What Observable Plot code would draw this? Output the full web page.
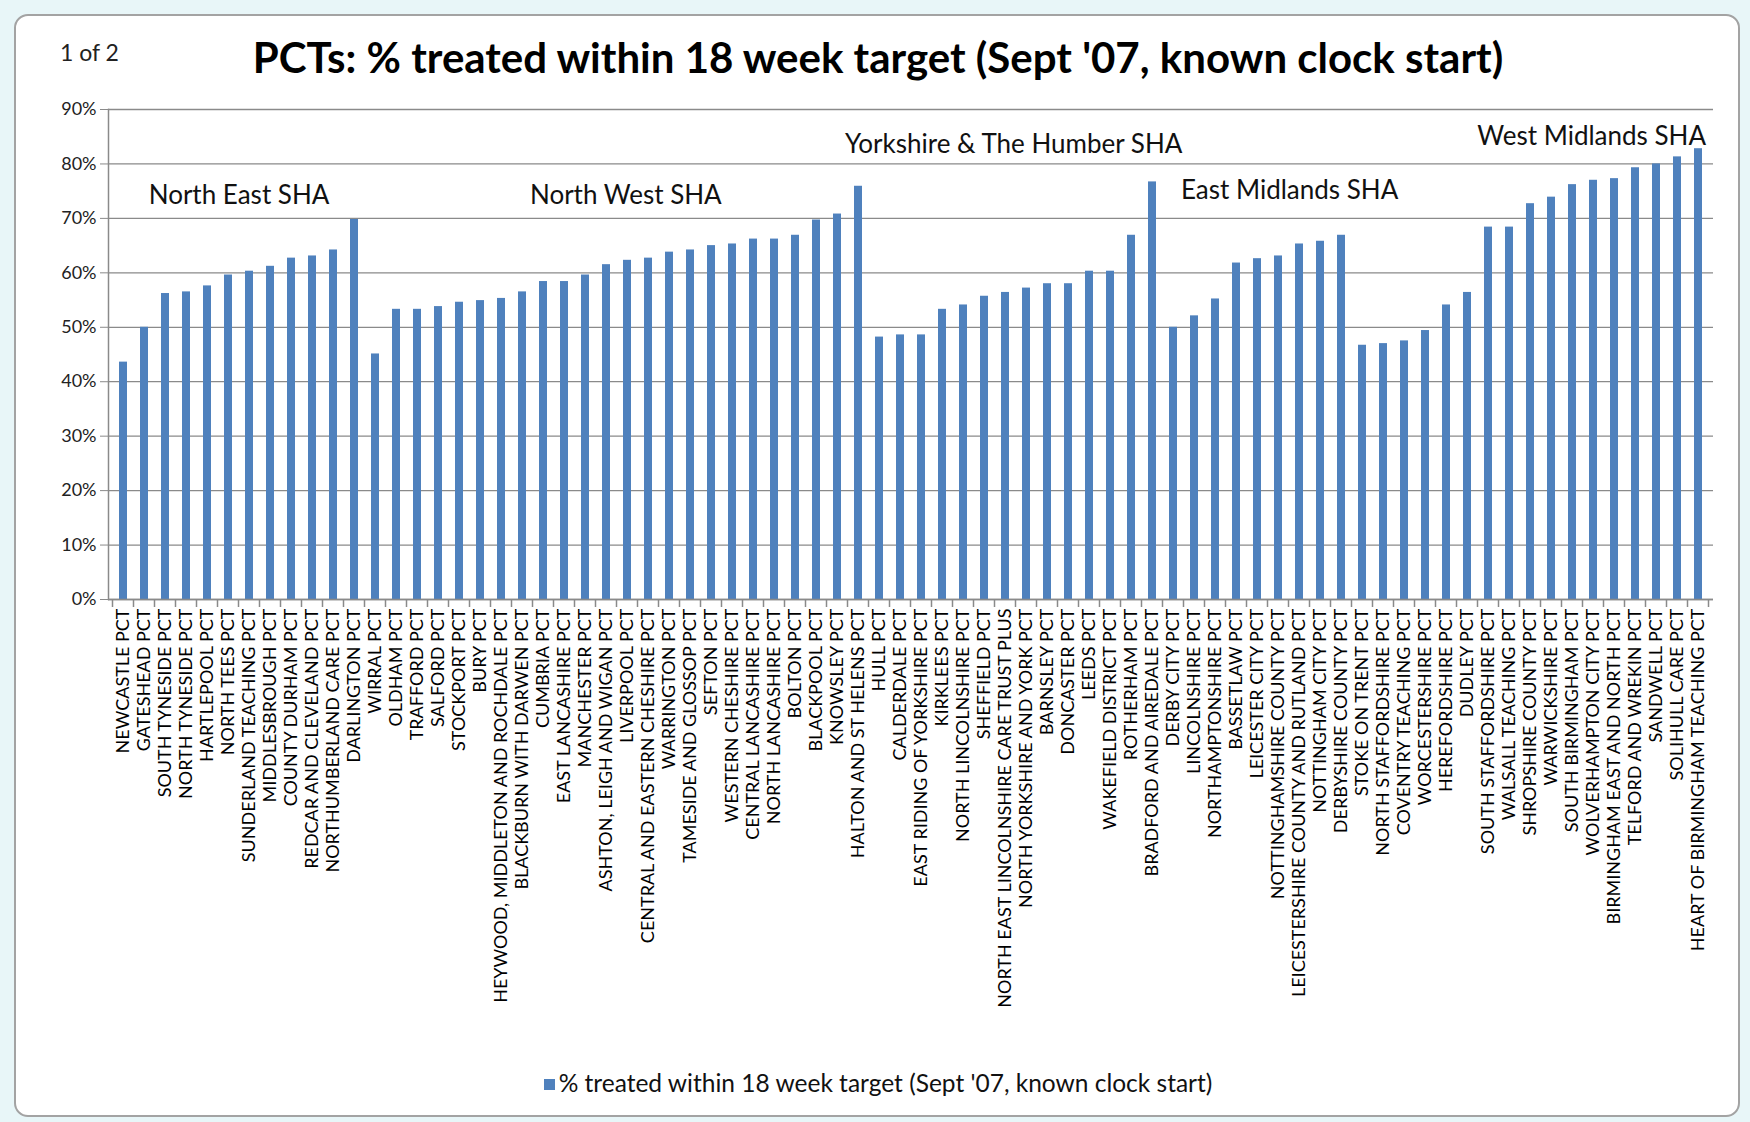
<!DOCTYPE html>
<html>
<head>
<meta charset="utf-8">
<script src="https://cdn.jsdelivr.net/npm/d3@7"></script>
<script src="https://cdn.jsdelivr.net/npm/@observablehq/plot@0.6"></script>
<style>
  html, body { margin: 0; padding: 0; background: #ffffff; }
  #page { position: relative; width: 1750px; height: 1122px; overflow: hidden; font-family: Lato, "Open Sans", sans-serif; background: #e8f6f8; }
  #frame { position: absolute; left: 14px; top: 14px; width: 1726px; height: 1103px; box-sizing: border-box; border: 2px solid #a3a3a3; border-radius: 14px; background: #ffffff; }
  #pageno { position: absolute; left: 60px; top: 38px; font-size: 23px; color: #222; }
  #title { position: absolute; left: 0; width: 1756px; top: 32px; text-align: center; font-size: 42px; font-weight: 700; color: #000; letter-spacing: 0; }
  #chart { position: absolute; left: 0; top: 80px; }
  #legend { position: absolute; left: 0; width: 1756px; top: 1068px; text-align: center; font-size: 24.5px; color: #111; }
  #legend .sw { display: inline-block; width: 11px; height: 11px; background: #4F81BD; margin-right: 4px; vertical-align: 2px; }
</style>
</head>
<body>
<div id="page">
  <div id="frame"></div>
  <div id="pageno">1 of 2</div>
  <div id="title"></div>
  <div id="chart"></div>
  <div id="legend"></div>
</div>
<script>
const titleText = "PCTs: % treated within 18 week target (Sept '07, known clock start)";
const seriesName = "% treated within 18 week target (Sept '07, known clock start)";

const names = [
  "NEWCASTLE PCT", "GATESHEAD PCT", "SOUTH TYNESIDE PCT", "NORTH TYNESIDE PCT", "HARTLEPOOL PCT",
  "NORTH TEES PCT", "SUNDERLAND TEACHING PCT", "MIDDLESBROUGH PCT", "COUNTY DURHAM PCT",
  "REDCAR AND CLEVELAND PCT", "NORTHUMBERLAND CARE PCT", "DARLINGTON PCT",
  "WIRRAL PCT", "OLDHAM PCT", "TRAFFORD PCT", "SALFORD PCT", "STOCKPORT PCT", "BURY PCT",
  "HEYWOOD, MIDDLETON AND ROCHDALE PCT", "BLACKBURN WITH DARWEN PCT", "CUMBRIA PCT",
  "EAST LANCASHIRE PCT", "MANCHESTER PCT", "ASHTON, LEIGH AND WIGAN PCT", "LIVERPOOL PCT",
  "CENTRAL AND EASTERN CHESHIRE PCT", "WARRINGTON PCT", "TAMESIDE AND GLOSSOP PCT", "SEFTON PCT",
  "WESTERN CHESHIRE PCT", "CENTRAL LANCASHIRE PCT", "NORTH LANCASHIRE PCT", "BOLTON PCT",
  "BLACKPOOL PCT", "KNOWSLEY PCT", "HALTON AND ST HELENS PCT",
  "HULL PCT", "CALDERDALE PCT", "EAST RIDING OF YORKSHIRE PCT", "KIRKLEES PCT",
  "NORTH LINCOLNSHIRE PCT", "SHEFFIELD PCT", "NORTH EAST LINCOLNSHIRE CARE TRUST PLUS",
  "NORTH YORKSHIRE AND YORK PCT", "BARNSLEY PCT", "DONCASTER PCT", "LEEDS PCT",
  "WAKEFIELD DISTRICT PCT", "ROTHERHAM PCT", "BRADFORD AND AIREDALE PCT",
  "DERBY CITY PCT", "LINCOLNSHIRE PCT", "NORTHAMPTONSHIRE PCT", "BASSETLAW PCT",
  "LEICESTER CITY PCT", "NOTTINGHAMSHIRE COUNTY PCT", "LEICESTERSHIRE COUNTY AND RUTLAND PCT",
  "NOTTINGHAM CITY PCT", "DERBYSHIRE COUNTY PCT",
  "STOKE ON TRENT PCT", "NORTH STAFFORDSHIRE PCT", "COVENTRY TEACHING PCT", "WORCESTERSHIRE PCT",
  "HEREFORDSHIRE PCT", "DUDLEY PCT", "SOUTH STAFFORDSHIRE PCT", "WALSALL TEACHING PCT",
  "SHROPSHIRE COUNTY PCT", "WARWICKSHIRE PCT", "SOUTH BIRMINGHAM PCT", "WOLVERHAMPTON CITY PCT",
  "BIRMINGHAM EAST AND NORTH PCT", "TELFORD AND WREKIN PCT", "SANDWELL PCT", "SOLIHULL CARE PCT",
  "HEART OF BIRMINGHAM TEACHING PCT"
];

const values = [
  43.6, 50.0, 56.2, 56.5, 57.6, 59.6, 60.3, 61.2, 62.7, 63.1, 64.2, 69.8,
  45.1, 53.3, 53.3, 53.8, 54.6, 54.9, 55.3, 56.5, 58.4, 58.4, 59.6, 61.5, 62.3, 62.7,
  63.8, 64.2, 65.0, 65.3, 66.2, 66.2, 66.9, 69.7, 70.8, 75.9,
  48.2, 48.6, 48.6, 53.3, 54.1, 55.7, 56.4, 57.2, 58.0, 58.0, 60.3, 60.3, 66.9, 76.7,
  50.0, 52.1, 55.2, 61.8, 62.6, 63.1, 65.3, 65.8, 66.9,
  46.7, 47.0, 47.5, 49.4, 54.1, 56.4, 68.4, 68.4, 72.7, 73.9, 76.2, 77.0, 77.3, 79.3, 80.0, 81.3, 82.8
];

const yTicks = [0, 10, 20, 30, 40, 50, 60, 70, 80, 90];

const shaLabels = ["North East SHA", "North West SHA", "Yorkshire & The Humber SHA", "East Midlands SHA", "West Midlands SHA"];
const shaAnchor = ["NORTH TEES PCT", "CUMBRIA PCT", "HALTON AND ST HELENS PCT", "LINCOLNSHIRE PCT", "HEART OF BIRMINGHAM TEACHING PCT"];
const shaY = [74.2, 74.2, 83.5, 75.0, 85.0];
const shaAlign = ["middle", "start", "start", "start", "end"];

const data = names.map((n, i) => ({name: n, value: values[i]}));
const notes = shaLabels.map((t, i) => ({label: t, anchor: shaAnchor[i], y: shaY[i], align: shaAlign[i]}));

const W = 1750, H = 980;
const mL = 108, mR = 37, mT = 29, mB = 461;
const step = (W - mL - mR) / names.length;
const grey = "#8a8a8a";
const noteShift = {start: -step / 2 - 3, middle: step / 2, end: step / 2 - 3};

const plot = Plot.plot({
  width: W,
  height: H,
  marginLeft: mL,
  marginRight: mR,
  marginTop: mT,
  marginBottom: mB,
  style: {fontFamily: "Lato, 'Open Sans', sans-serif", background: "transparent", color: "#000"},
  x: {type: "band", domain: names, paddingInner: 0.6, paddingOuter: 0.3, label: null},
  y: {domain: [0, 90], label: null},
  marks: [
    Plot.gridY(yTicks, {stroke: grey, strokeOpacity: 1, strokeWidth: 1.3}),
    Plot.barY(data, {x: "name", y: "value", fill: "#4F81BD"}),
    Plot.ruleY([0], {stroke: grey, strokeWidth: 1.5}),
    Plot.frame({anchor: "left", stroke: grey, strokeWidth: 1.5}),
    Plot.axisY(yTicks, {tickSize: 8, tickPadding: 4, tickFormat: d => d + "%", stroke: grey, fontSize: 18, fill: "#222"}),
    Plot.axisX({tickSize: 0, tickPadding: 9, tickRotate: -90, fontSize: 18, fill: "#000"}),
    ...["start", "middle", "end"].map(a =>
      Plot.text(notes.filter(d => d.align === a), {x: "anchor", y: "y", text: "label", textAnchor: a, dx: noteShift[a], fontSize: 26, fill: "#111"})
    )
  ]
});

// boundary tick marks on the category axis, from the plot's own x scale
const xs = plot.scale("x");
const ys = plot.scale("y");
const y0 = ys.apply(0);
const svg = d3.select(plot);
const gap = xs.step - xs.bandwidth;
const bounds = names.map(n => xs.apply(n) - gap / 2);
bounds.push(xs.apply(names[names.length - 1]) + xs.bandwidth + gap / 2);
svg.append("g")
  .attr("stroke", grey)
  .attr("stroke-width", 1.5)
  .selectAll("line")
  .data(bounds)
  .join("line")
  .attr("x1", d => d).attr("x2", d => d)
  .attr("y1", y0).attr("y2", y0 + 8);

document.getElementById("chart").appendChild(plot);
document.getElementById("title").textContent = titleText;
document.getElementById("legend").innerHTML = '<span class="sw"></span>' + seriesName.replace(/&/g, "&amp;");
</script>
</body>
</html>
